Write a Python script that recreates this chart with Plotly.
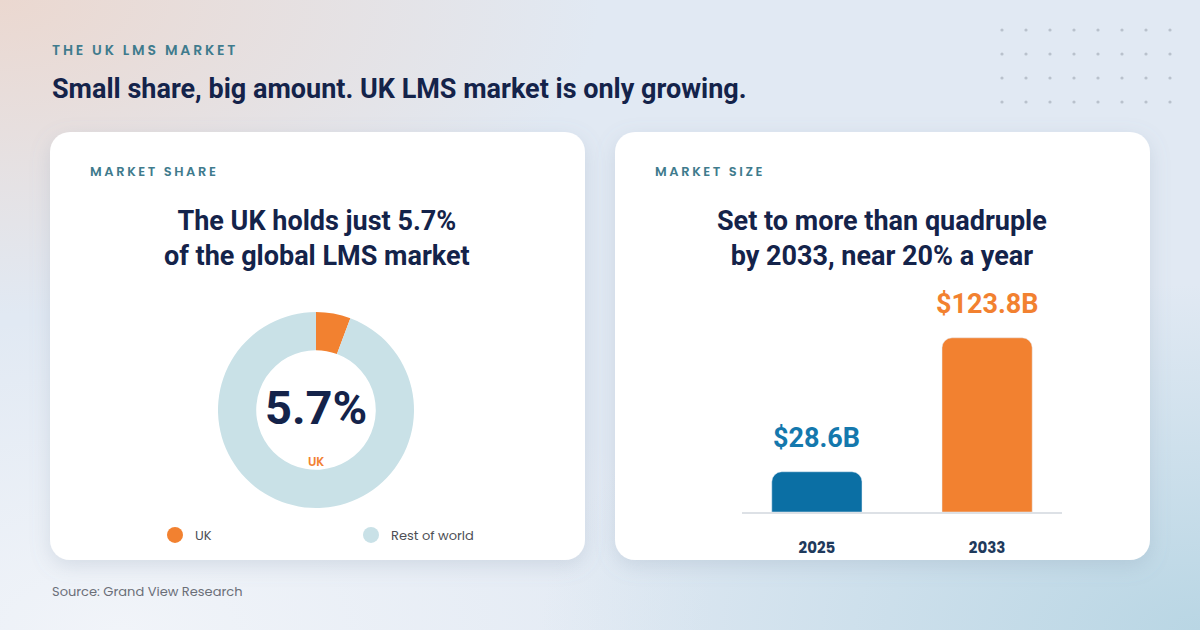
import base64
import plotly.graph_objects as go

# Data
share_labels = ["UK", "Rest of world"]
share_values = [5.7, 94.3]
share_colors = ["#f28130", "#c9e1e7"]

years = ["2025", "2033"]
market_size = [28.6, 123.8]          # USD billions
bar_colors = ["#0b6fa4", "#f28130"]
label_colors = ["#1478ad", "#f28130"]

W, H = 1200, 630
NAVY = "#14234a"
TEAL = "#3f7b8d"
COND = "Roboto, Liberation Sans, sans-serif"
BODY = "Poppins, Lato, Noto Sans, sans-serif"


def px(x):
    return x / W


def py(y):
    return 1 - y / H


def spaced(s):
    # letter spaced caps for the small headings
    return "\u2009".join(s)


# Background: gradient, dot grid and the two cards with a soft shadow
dots = ""
for r in range(4):
    for c in range(8):
        dots += f'<circle cx="{1002 + c * 24}" cy="{30 + r * 24}" r="1.6" fill="#b9c1cc"/>'

svg = f'''<svg xmlns="http://www.w3.org/2000/svg" width="{W}" height="{H}">
<defs>
<radialGradient id="g1" cx="0" cy="0" r="0.5"><stop offset="0" stop-color="#ebd8d0"/><stop offset="1" stop-color="#ebd8d0" stop-opacity="0"/></radialGradient>
<radialGradient id="g2" cx="1" cy="1" r="0.55"><stop offset="0" stop-color="#b9d6e4"/><stop offset="1" stop-color="#b9d6e4" stop-opacity="0"/></radialGradient>
<radialGradient id="g3" cx="0.1" cy="1" r="0.5"><stop offset="0" stop-color="#f1f4f9"/><stop offset="1" stop-color="#f1f4f9" stop-opacity="0"/></radialGradient>
<filter id="sh" x="-10%" y="-10%" width="120%" height="130%"><feDropShadow dx="0" dy="6" stdDeviation="10" flood-color="#7d8fa6" flood-opacity="0.22"/></filter>
</defs>
<rect width="{W}" height="{H}" fill="#e1e9f3"/>
<rect width="{W}" height="{H}" fill="url(#g1)"/>
<rect width="{W}" height="{H}" fill="url(#g3)"/>
<rect width="{W}" height="{H}" fill="url(#g2)"/>
{dots}
<rect x="50" y="132" width="535" height="428" rx="20" fill="#ffffff" filter="url(#sh)"/>
<rect x="615" y="132" width="535" height="428" rx="20" fill="#ffffff" filter="url(#sh)"/>
</svg>'''
bg_uri = "data:image/svg+xml;base64," + base64.b64encode(svg.encode()).decode()

fig = go.Figure()

# Donut
fig.add_trace(go.Pie(
    labels=share_labels, values=share_values, hole=0.61,
    marker=dict(colors=share_colors), sort=False, direction="clockwise",
    rotation=0, textinfo="none", showlegend=False, hoverinfo="label+value",
    domain=dict(x=[px(218), px(414)], y=[py(508), py(312)]),
))

# Legend entries (circle symbols) for the donut
for lab, col in zip(share_labels, share_colors):
    fig.add_trace(go.Scatter(
        x=[None], y=[None], mode="markers", name=lab,
        marker=dict(size=16, color=col), xaxis="x2", yaxis="y2",
    ))

# Bars
fig.add_trace(go.Bar(
    x=years, y=market_size, marker=dict(color=bar_colors, cornerradius=10),
    width=0.53, showlegend=False, hoverinfo="x+y",
))

for i, (v, col) in enumerate(zip(market_size, label_colors)):
    fig.add_annotation(
        x=i, y=v, xref="x", yref="y", text=f"${v}B", showarrow=False,
        yanchor="bottom", yshift=16,
        font=dict(family=COND, size=27, color=col, weight="bold"),
    )

annos = [
    # (text, x, y, size, color, family, anchor, weight)
    (spaced("THE UK LMS MARKET"), 50, 50, 14, TEAL, BODY, "left", 600),
    ("Small share, big amount. UK LMS market is only growing.", 50, 89, 27, NAVY, COND, "left", "bold"),
    (spaced("MARKET SHARE"), 88, 172, 13, TEAL, BODY, "left", 600),
    (spaced("MARKET SIZE"), 653, 172, 13, TEAL, BODY, "left", 600),
    ("The UK holds just 5.7%<br>of the global LMS market", 317, 238, 27, NAVY, COND, "center", "bold"),
    ("Set to more than quadruple<br>by 2033, near 20% a year", 882, 238, 27, NAVY, COND, "center", "bold"),
    ("5.7%", 316, 407, 47, NAVY, COND, "center", "bold"),
    ("UK", 316, 462, 12, "#f28130", BODY, "center", 600),
    ("Source: Grand View Research", 50, 591, 13, "#6b6f78", BODY, "left", "normal"),
]
for text, x, y, size, color, fam, anchor, weight in annos:
    fig.add_annotation(
        x=px(x), y=py(y), xref="paper", yref="paper", text=text,
        showarrow=False, xanchor=anchor, yanchor="middle", align=anchor,
        font=dict(family=fam, size=size, color=color, weight=weight),
    )

fig.update_layout(
    width=W, height=H, margin=dict(l=0, r=0, t=0, b=0),
    paper_bgcolor="#e1e9f3", plot_bgcolor="rgba(0,0,0,0)",
    images=[dict(source=bg_uri, xref="paper", yref="paper", x=0, y=1,
                 sizex=1, sizey=1, xanchor="left", yanchor="top",
                 sizing="stretch", layer="below")],
    xaxis=dict(type="category", domain=[px(742), px(1062)], range=[-0.44, 1.44],
               showline=True, linecolor="#dde1e6", linewidth=2,
               showgrid=False, zeroline=False, ticks="",
               ticklabelstandoff=21,
               tickfont=dict(family=BODY, size=15, color="#1f3a5c", weight="bold")),
    yaxis=dict(domain=[py(512), py(315)], range=[0, 140], visible=False),
    xaxis2=dict(domain=[0, 0.01], visible=False),
    yaxis2=dict(domain=[0, 0.01], visible=False),
    legend=dict(orientation="h", x=px(155), y=py(535), xanchor="left",
                yanchor="middle", entrywidth=151, bgcolor="rgba(0,0,0,0)",
                font=dict(family=BODY, size=13, color="#4d4f55")),
    font=dict(family=BODY),
)

fig.write_html("out.html", config={"displayModeBar": False},
               post_script="document.body.style.margin='0';")
